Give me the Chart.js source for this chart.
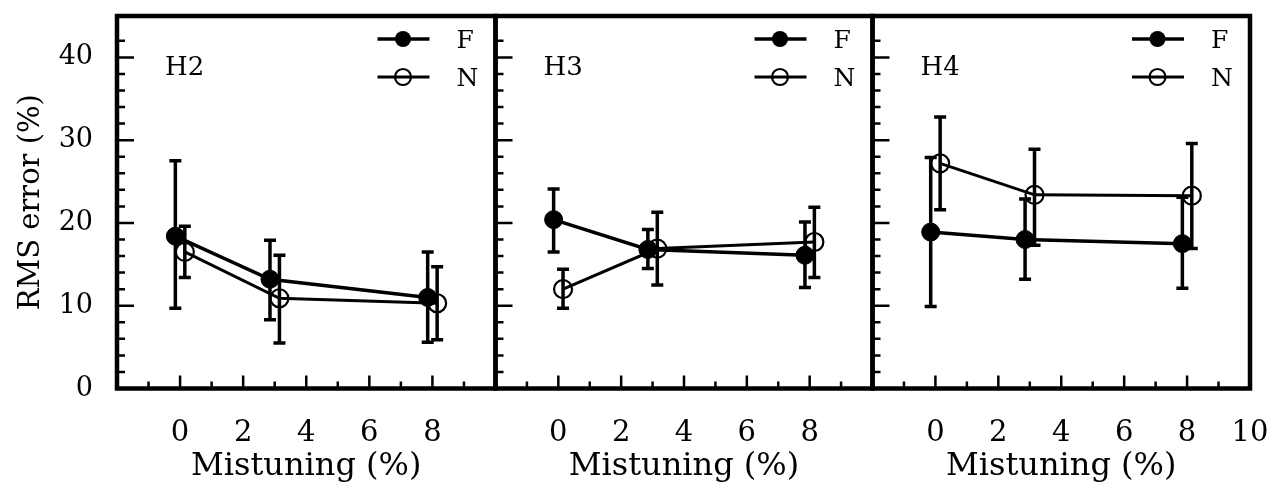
<!DOCTYPE html>
<html>
<head>
<meta charset="utf-8">
<script src="https://cdn.jsdelivr.net/npm/chart.js@4.4.1/dist/chart.umd.min.js"></script>
<style>
  html, body { margin: 0; padding: 0; background: #fff; }
  #wrap { position: relative; width: 1271px; height: 503px; }
  #wrap canvas { position: absolute; left: 0; top: 0; }
</style>
</head>
<body>
<div id="wrap">
  <canvas id="cH2" width="1271" height="503"></canvas>
  <canvas id="cH3" width="1271" height="503"></canvas>
  <canvas id="cH4" width="1271" height="503"></canvas>
</div>
<script>
// mistuning levels (%) and tick labels
const mistuning = [0, 3, 8];
const xTickLabels = [0, 2, 4, 6, 8];
const xTickLabelsLast = [0, 2, 4, 6, 8, 10];
const yTickLabels = [0, 10, 20, 30, 40];

// RMS error (%) - mean, lower and upper error bar
const h2F     = [18.4, 13.2, 11.0];
const h2FLow  = [9.7, 8.3, 5.6];
const h2FHigh = [27.5, 17.9, 16.5];
const h2N     = [16.5, 10.9, 10.3];
const h2NLow  = [13.4, 5.5, 5.9];
const h2NHigh = [19.6, 16.1, 14.7];

const h3F     = [20.4, 16.8, 16.1];
const h3FLow  = [16.5, 14.5, 12.2];
const h3FHigh = [24.1, 19.2, 20.1];
const h3N     = [12.0, 16.9, 17.7];
const h3NLow  = [9.7, 12.5, 13.4];
const h3NHigh = [14.4, 21.3, 21.9];

const h4F     = [18.9, 18.0, 17.5];
const h4FLow  = [9.9, 13.2, 12.1];
const h4FHigh = [27.9, 22.9, 23.1];
const h4N     = [27.2, 23.4, 23.3];
const h4NLow  = [21.6, 17.3, 16.9];
const h4NHigh = [32.8, 28.9, 29.6];

const FONT = "'DejaVu Serif', serif";
const W = 1271, H = 503;
const AREA_TOP = 16, AREA_BOTTOM = 388.5;
const DODGE = 0.15; // F slightly left, N slightly right

// vertical error bars with caps, drawn behind the markers
const errorBars = {
  id: 'errorBars',
  beforeDatasetsDraw(chart) {
    const { ctx, scales: { x, y } } = chart;
    chart.data.datasets.forEach(ds => {
      ctx.save();
      ctx.strokeStyle = '#000';
      ctx.lineWidth = ds.barWidth;
      ds.data.forEach((p, i) => {
        const px = x.getPixelForValue(p.x);
        const top = y.getPixelForValue(ds.high[i]);
        const bot = y.getPixelForValue(ds.low[i]);
        ctx.beginPath();
        ctx.moveTo(px, top); ctx.lineTo(px, bot);
        ctx.moveTo(px - 6, top); ctx.lineTo(px + 6, top);
        ctx.moveTo(px - 6, bot); ctx.lineTo(px + 6, bot);
        ctx.stroke();
      });
      ctx.restore();
    });
  }
};

// heavy box round the plot with inward tick marks on left and bottom
const frame = {
  id: 'frame',
  afterDatasetsDraw(chart) {
    const { ctx, chartArea: a, scales: { x, y } } = chart;
    ctx.save();
    ctx.strokeStyle = '#000';
    ctx.lineWidth = 2.5;
    ctx.beginPath();
    y.ticks.forEach(t => {
      if (t.value <= y.min || t.value >= y.max) return;
      const py = y.getPixelForValue(t.value);
      const len = t.value % 10 === 0 ? 17 : 8;
      ctx.moveTo(a.left, py); ctx.lineTo(a.left + len, py);
    });
    x.ticks.forEach(t => {
      if (t.value <= x.min || t.value >= x.max) return;
      const px = x.getPixelForValue(t.value);
      const len = t.value % 2 === 0 ? 13 : 7;
      ctx.moveTo(px, a.bottom); ctx.lineTo(px, a.bottom - len);
    });
    ctx.stroke();
    ctx.lineWidth = 4.5;
    ctx.strokeRect(a.left, a.top, a.right - a.left, a.bottom - a.top);
    ctx.restore();
  }
};

// panel name and the F / N key in the upper part of each panel
const panelKey = {
  id: 'panelKey',
  afterDraw(chart) {
    const { ctx, chartArea: a } = chart;
    const opts = chart.options.plugins.panelKey;
    ctx.save();
    ctx.fillStyle = '#000';
    ctx.strokeStyle = '#000';
    ctx.font = '26px ' + FONT;
    ctx.textBaseline = 'alphabetic';
    ctx.fillText(opts.name, a.left + 48, a.top + 59);

    chart.data.datasets.forEach((ds, i) => {
      const ky = a.top + 23 + i * 38;
      const kx = a.right - 92.5;
      ctx.lineWidth = ds.borderWidth;
      ctx.beginPath();
      ctx.moveTo(a.right - 118, ky); ctx.lineTo(a.right - 66, ky);
      ctx.stroke();
      ctx.beginPath();
      ctx.arc(kx, ky, 8, 0, Math.PI * 2);
      if (ds.filled) { ctx.fill(); } else { ctx.lineWidth = 2.2; ctx.stroke(); }
      ctx.font = '25px ' + FONT;
      ctx.fillText(ds.label, a.right - 39, ky + 8.5);
    });
    ctx.restore();
  }
};

function series(values, dodge) {
  return values.map((v, i) => ({ x: mistuning[i] + dodge, y: v }));
}

function makePanel(id, name, left, right, showY, xLabels, f, fLow, fHigh, n, nLow, nHigh) {
  new Chart(document.getElementById(id), {
    type: 'line',
    data: {
      datasets: [
        {
          label: 'F', filled: true, data: series(f, -DODGE), low: fLow, high: fHigh,
          borderColor: '#000', borderWidth: 3.5, barWidth: 3.5,
          pointRadius: 9, pointBackgroundColor: '#000', pointBorderColor: '#000', pointBorderWidth: 1
        },
        {
          label: 'N', filled: false, data: series(n, DODGE), low: nLow, high: nHigh,
          borderColor: '#000', borderWidth: 3, barWidth: 3.5,
          pointRadius: 9, pointBackgroundColor: 'rgba(0,0,0,0)', pointBorderColor: '#000', pointBorderWidth: 2.2
        }
      ]
    },
    options: {
      responsive: false,
      animation: false,
      devicePixelRatio: 1,
      layout: { padding: { left: showY ? 0 : left, right: W - right, top: AREA_TOP, bottom: 0 } },
      plugins: {
        legend: { display: false },
        tooltip: { enabled: false },
        panelKey: { name: name }
      },
      elements: { line: { tension: 0 } },
      scales: {
        x: {
          type: 'linear', min: -2, max: 10,
          grid: { display: false, drawTicks: false },
          border: { display: false },
          ticks: {
            stepSize: 1, autoSkip: false, maxRotation: 0, padding: 28,
            color: '#000', font: { family: FONT, size: 29 },
            callback: v => xLabels.includes(v) ? String(v) : ''
          },
          title: {
            display: true, text: 'Mistuning (%)', color: '#000',
            font: { family: FONT, size: 32 }, padding: { top: 0, bottom: 17 }
          },
          afterFit: s => {
            s.height = H - AREA_BOTTOM;
            s.paddingLeft = 0; s.paddingRight = 0;
          }
        },
        y: {
          display: showY, min: 0, max: 45,
          grid: { display: false, drawTicks: false },
          border: { display: false },
          ticks: {
            stepSize: 2, autoSkip: false, padding: 24,
            color: '#000', font: { family: FONT, size: 27 },
            callback: v => yTickLabels.includes(v) ? String(v) : ''
          },
          title: {
            display: true, text: 'RMS error (%)', color: '#000',
            font: { family: FONT, size: 29 }, padding: { top: 14, bottom: 0 }
          },
          afterFit: s => {
            if (showY) s.width = left;
            s.paddingTop = 0; s.paddingBottom = 0;
          }
        }
      }
    },
    plugins: [errorBars, frame, panelKey]
  });
}

makePanel('cH2', 'H2', 117, 495.5, true, xTickLabels, h2F, h2FLow, h2FHigh, h2N, h2NLow, h2NHigh);
makePanel('cH3', 'H3', 495.5, 872.5, false, xTickLabels, h3F, h3FLow, h3FHigh, h3N, h3NLow, h3NHigh);
makePanel('cH4', 'H4', 872.5, 1250, false, xTickLabelsLast, h4F, h4FLow, h4FHigh, h4N, h4NLow, h4NHigh);
</script>
</body>
</html>
